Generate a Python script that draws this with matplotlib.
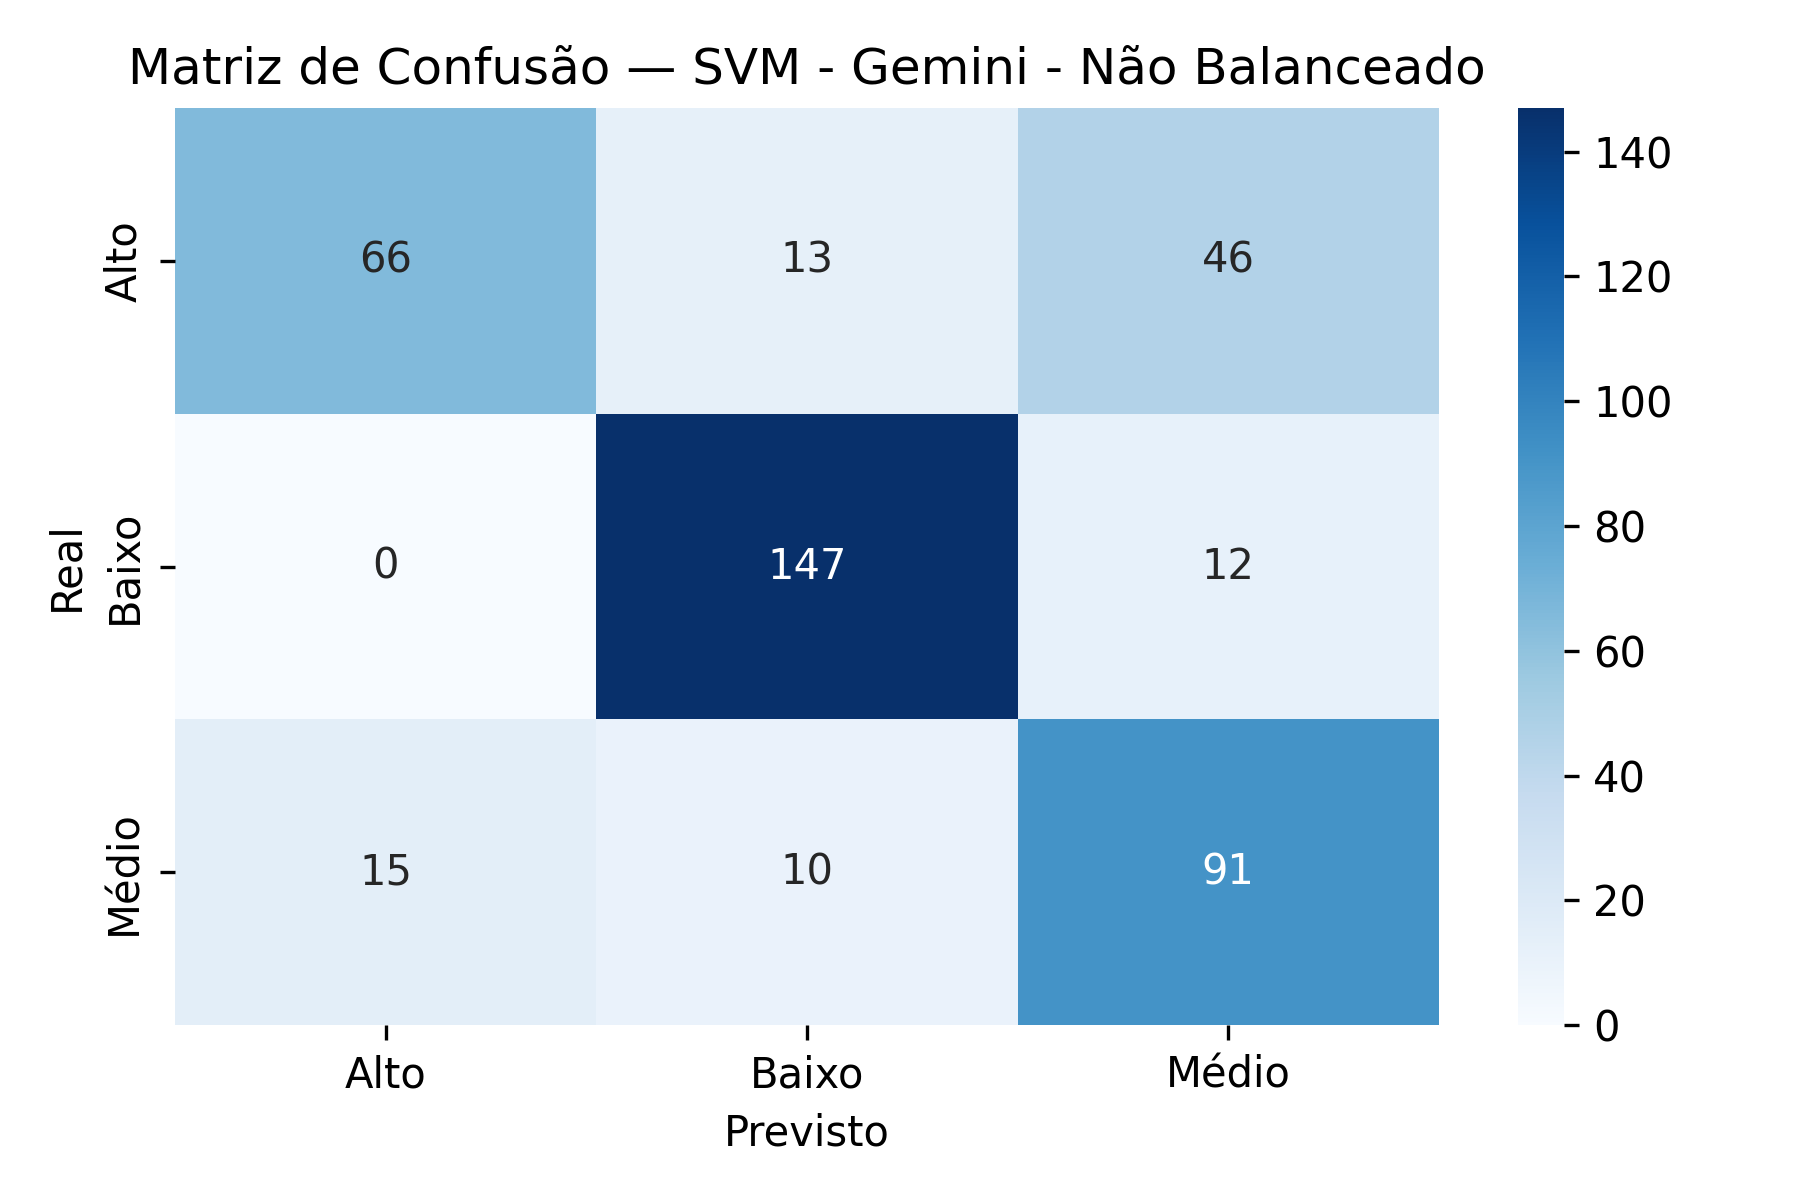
import matplotlib
matplotlib.use("Agg")
import matplotlib.pyplot as plt
import seaborn as sns
import numpy as np

# Class labels and confusion matrix values (rows = real, cols = previsto)
labels = ["Alto", "Baixo", "Médio"]
row_alto = [66, 13, 46]
row_baixo = [0, 147, 12]
row_medio = [15, 10, 91]

cm = np.array([row_alto, row_baixo, row_medio])

plt.figure(figsize=(6, 4), dpi=300)
sns.heatmap(cm, annot=True, fmt="d", cmap="Blues",
            xticklabels=labels, yticklabels=labels)
plt.title("Matriz de Confusão — SVM - Gemini - Não Balanceado")
plt.xlabel("Previsto")
plt.ylabel("Real")
plt.tight_layout()
plt.savefig("out.png", dpi=300)
